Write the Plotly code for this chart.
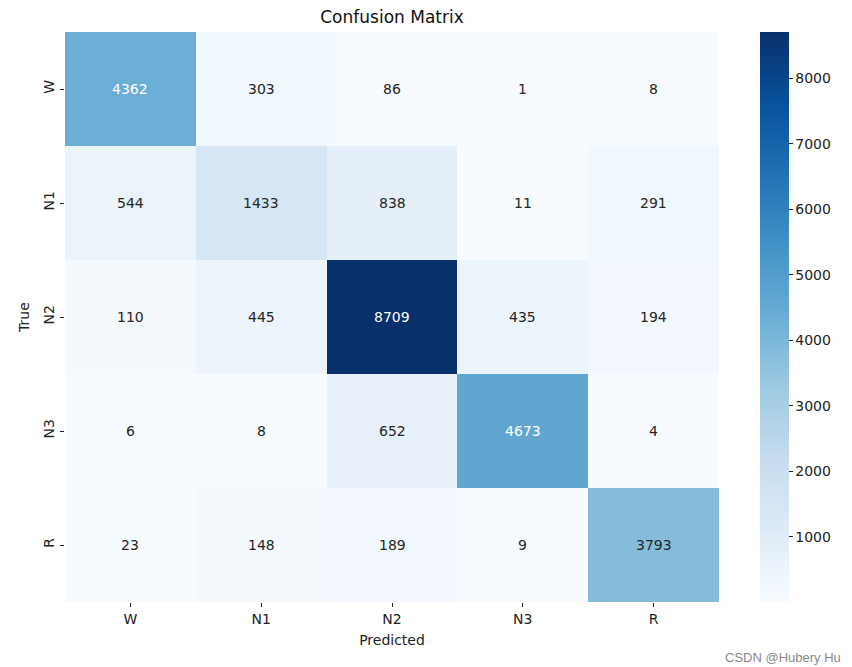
import plotly.graph_objects as go

labels = ["W", "N1", "N2", "N3", "R"]
matrix = [
    [4362, 303, 86, 1, 8],
    [544, 1433, 838, 11, 291],
    [110, 445, 8709, 435, 194],
    [6, 8, 652, 4673, 4],
    [23, 148, 189, 9, 3793],
]
cbar_ticks = [1000, 2000, 3000, 4000, 5000, 6000, 7000, 8000]

vmax = max(max(r) for r in matrix)
vmin = min(min(r) for r in matrix)

fig = go.Figure()
fig.add_trace(go.Heatmap(
    z=matrix, x=labels, y=labels,
    colorscale="Blues", zmin=vmin, zmax=vmax,
    xgap=0, ygap=0,
    colorbar=dict(
        x=1.063, xanchor="left", xref="paper", xpad=0, ypad=0,
        y=0.5, yanchor="middle", len=1.0, lenmode="fraction",
        thickness=29, outlinewidth=0,
        tickvals=cbar_ticks, ticks="outside", ticklen=4, tickcolor="#222",
        tickfont=dict(family="DejaVu Sans", size=14, color="#222"),
    ),
    hoverinfo="skip",
))

for i, row in enumerate(matrix):
    for j, v in enumerate(row):
        color = "white" if v > 0.45 * vmax else "#262626"
        fig.add_annotation(x=labels[j], y=labels[i], text=str(v), showarrow=False,
                           font=dict(family="DejaVu Sans", size=14, color=color))

fig.add_annotation(text="CSDN @Hubery Hu", xref="paper", yref="paper",
                   x=1.19, y=-0.097, xanchor="right", yanchor="middle", showarrow=False,
                   font=dict(family="Liberation Sans", size=13, color="#8a8a8a"))

fig.update_layout(
    width=844, height=659,
    margin=dict(l=57, r=133, t=24, b=65),
    paper_bgcolor="white", plot_bgcolor="white",
    font=dict(family="DejaVu Sans", size=14, color="#222"),
    title=dict(text="Confusion Matrix", x=0.5, xref="paper", y=1 - 9/659, yanchor="middle",
               font=dict(family="DejaVu Sans", size=17, color="#111")),
    xaxis=dict(title=dict(text="Predicted", standoff=9, font=dict(size=14)), automargin=False,
               ticks="outside", ticklen=4, tickcolor="#222", showgrid=False,
               zeroline=False, showline=False),
    yaxis=dict(title=dict(text="True", standoff=8, font=dict(size=14)), automargin=False,
               autorange="reversed", tickangle=-90,
               ticks="outside", ticklen=4, tickcolor="#222", showgrid=False,
               zeroline=False, showline=False),
)

fig.write_html("out.html")
